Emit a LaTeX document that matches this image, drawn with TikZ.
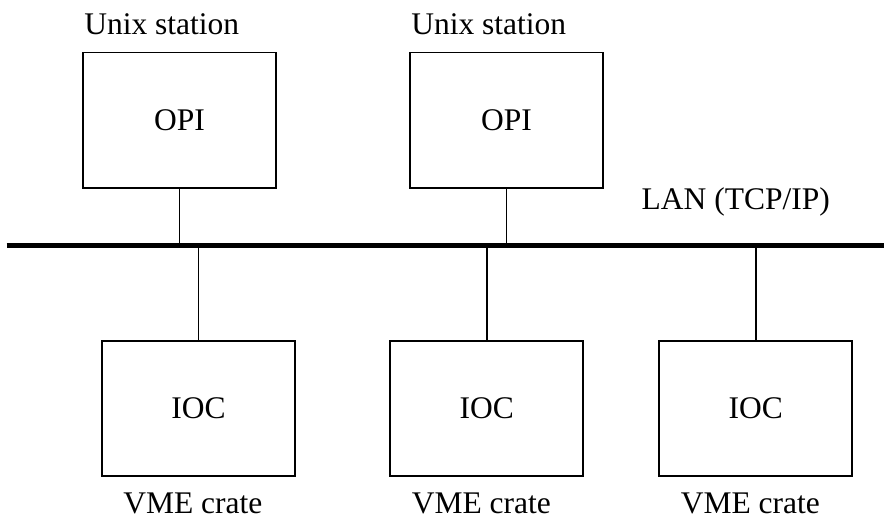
\documentclass[tikz,border=0pt]{standalone}
\usepackage{fontspec}
\setmainfont{Liberation Serif}
\begin{document}
\begin{tikzpicture}[x=1pt,y=-1pt,
  unitbox/.style={draw,line width=1.8pt,minimum width=193pt,minimum height=135.5pt,inner sep=0pt,
    font=\fontsize{31.5}{36}\selectfont},
  caption/.style={inner sep=0pt,font=\fontsize{31.5}{36}\selectfont},
  tap/.style={line width=1.6pt},
  lanbus/.style={line width=5pt}]
\useasboundingbox (0,0) rectangle (884,518);

% operator interfaces
\node[unitbox] (opi1) at (179.5,120.2) {OPI};
\node[unitbox] (opi2) at (506.5,120.2) {OPI};

% input/output controllers
\node[unitbox,minimum height=135pt] (ioc1) at (198.4,408.6) {IOC};
\node[unitbox,minimum height=135pt] (ioc2) at (486.8,408.6) {IOC};
\node[unitbox,minimum height=135pt] (ioc3) at (755.8,408.6) {IOC};

% network bus
\coordinate (lanL) at (6.5,245.5);
\coordinate (lanR) at (884,245.5);
\draw[lanbus] (lanL) -- (lanR);
\node[caption,anchor=base west] (lan) at (641.5,209.3) {LAN (TCP/IP)};

% taps onto the bus
\foreach \n in {opi1,opi2}{
  \draw[tap] (\n.south) -- (\n.south |- lanL);
}
\foreach \n in {ioc1,ioc2,ioc3}{
  \draw[tap] (\n.north) -- (\n.north |- lanL);
}

% captions
\node[caption,anchor=base west] (u1) at ([shift={(2,-17.5)}]opi1.north west) {Unix station};
\node[caption,anchor=base west] (u2) at ([shift={(2,-17.5)}]opi2.north west) {Unix station};
\node[caption,anchor=base] (v1) at ([shift={(-5.5,36.5)}]ioc1.south) {VME crate};
\node[caption,anchor=base] (v2) at ([shift={(-5.5,36.5)}]ioc2.south) {VME crate};
\node[caption,anchor=base] (v3) at ([shift={(-5.5,36.5)}]ioc3.south) {VME crate};
\end{tikzpicture}
\end{document}
